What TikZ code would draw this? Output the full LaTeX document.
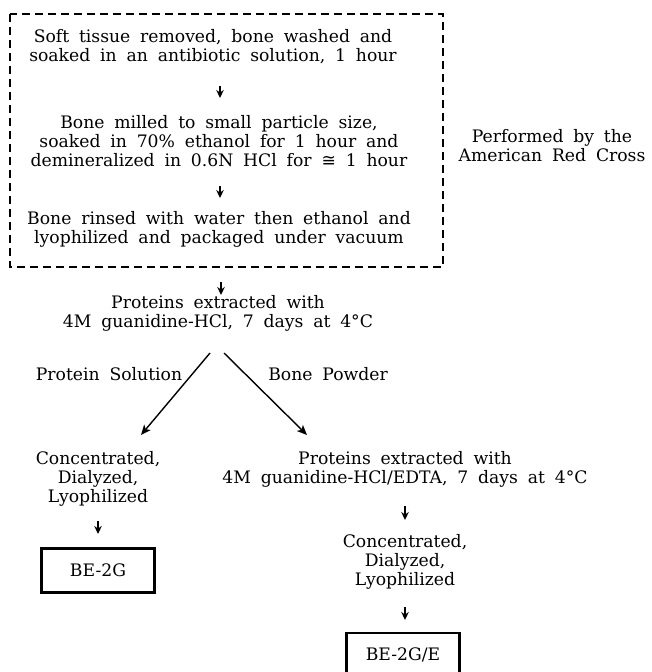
\documentclass[tikz,border=0pt]{standalone}
\usepackage{fontspec}
\setmainfont{DejaVu Serif}[WordSpace={1.8,1,1}]
\newfontfamily\symfont{DejaVu Sans}
\usetikzlibrary{arrows.meta}
\tikzset{
  txt/.style={align=center, inner sep=0pt, font=\fontsize{17.2}{19}\selectfont},
  varr/.style={-{Stealth[length=8pt,width=7.5pt]}, line width=1.7pt},
  darr/.style={-{Stealth[length=10pt,width=8.5pt,inset=2.5pt]}, line width=1.4pt},
  dbox/.style={draw, dash pattern=on 8pt off 5pt, line width=1.3pt},
  resbox/.style={draw, line width=2.4pt, minimum width=113pt, minimum height=44pt, inner sep=0pt, font=\fontsize{17.2}{19}\selectfont}
}
\begin{document}
\begin{tikzpicture}[x=1pt,y=-1pt]
\useasboundingbox (0,0) rectangle (651,672);
\fill[white] (0,0) rectangle (651,672);
% dashed frame
\draw[dbox] (10,14) rectangle (443,267);
\node[txt] (t1) at (213,47) {Soft tissue removed, bone washed and\\soaked in an antibiotic solution, 1 hour};
\node[txt] (t2) at (219,141) {Bone milled to small particle size,\\soaked in 70\% ethanol for 1 hour and\\demineralized in 0.6N HCl for {\symfont ≅} 1 hour};
\node[txt] (t3) at (219,229.5) {Bone rinsed with water then ethanol and\\lyophilized and packaged under vacuum};
\node[txt] (perf) at (552,145.5) {Performed by the\\American Red Cross};
\node[txt] (t4) at (218,313.5) {Proteins extracted with\\4M guanidine-HCl, 7 days at 4°C};
\node[txt] (ps) at (109,374) {Protein Solution};
\node[txt] (bp) at (328,374) {Bone Powder};
\node[txt] (c1) at (98,479) {Concentrated,\\Dialyzed,\\Lyophilized};
\node[txt] (t5) at (405,469) {Proteins extracted with\\4M guanidine-HCl/EDTA, 7 days at 4°C};
\node[txt] (c2) at (405,562) {Concentrated,\\Dialyzed,\\Lyophilized};
\node[resbox] (b1) at (98,570.5) {BE-2G};
\node[resbox] (b2) at (403,655) {BE-2G/E};
% arrows
\coordinate (a1s) at (220,86); \coordinate (a1e) at (220,98);
\coordinate (a2s) at (220,186); \coordinate (a2e) at (220,198);
\coordinate (a3s) at (221,282); \coordinate (a3e) at (221,295);
\coordinate (a4s) at (98,521); \coordinate (a4e) at (98,534);
\coordinate (a5s) at (405,506); \coordinate (a5e) at (405,520);
\coordinate (a6s) at (405,607); \coordinate (a6e) at (405,620);
\coordinate (dls) at (210,353); \coordinate (dle) at (141,435);
\coordinate (drs) at (224,353); \coordinate (dre) at (307,435);
\draw[varr] (a1s) -- (a1e);
\draw[varr] (a2s) -- (a2e);
\draw[varr] (a3s) -- (a3e);
\draw[varr] (a4s) -- (a4e);
\draw[varr] (a5s) -- (a5e);
\draw[varr] (a6s) -- (a6e);
\draw[darr] (dls) -- (dle);
\draw[darr] (drs) -- (dre);
\end{tikzpicture}
\end{document}
